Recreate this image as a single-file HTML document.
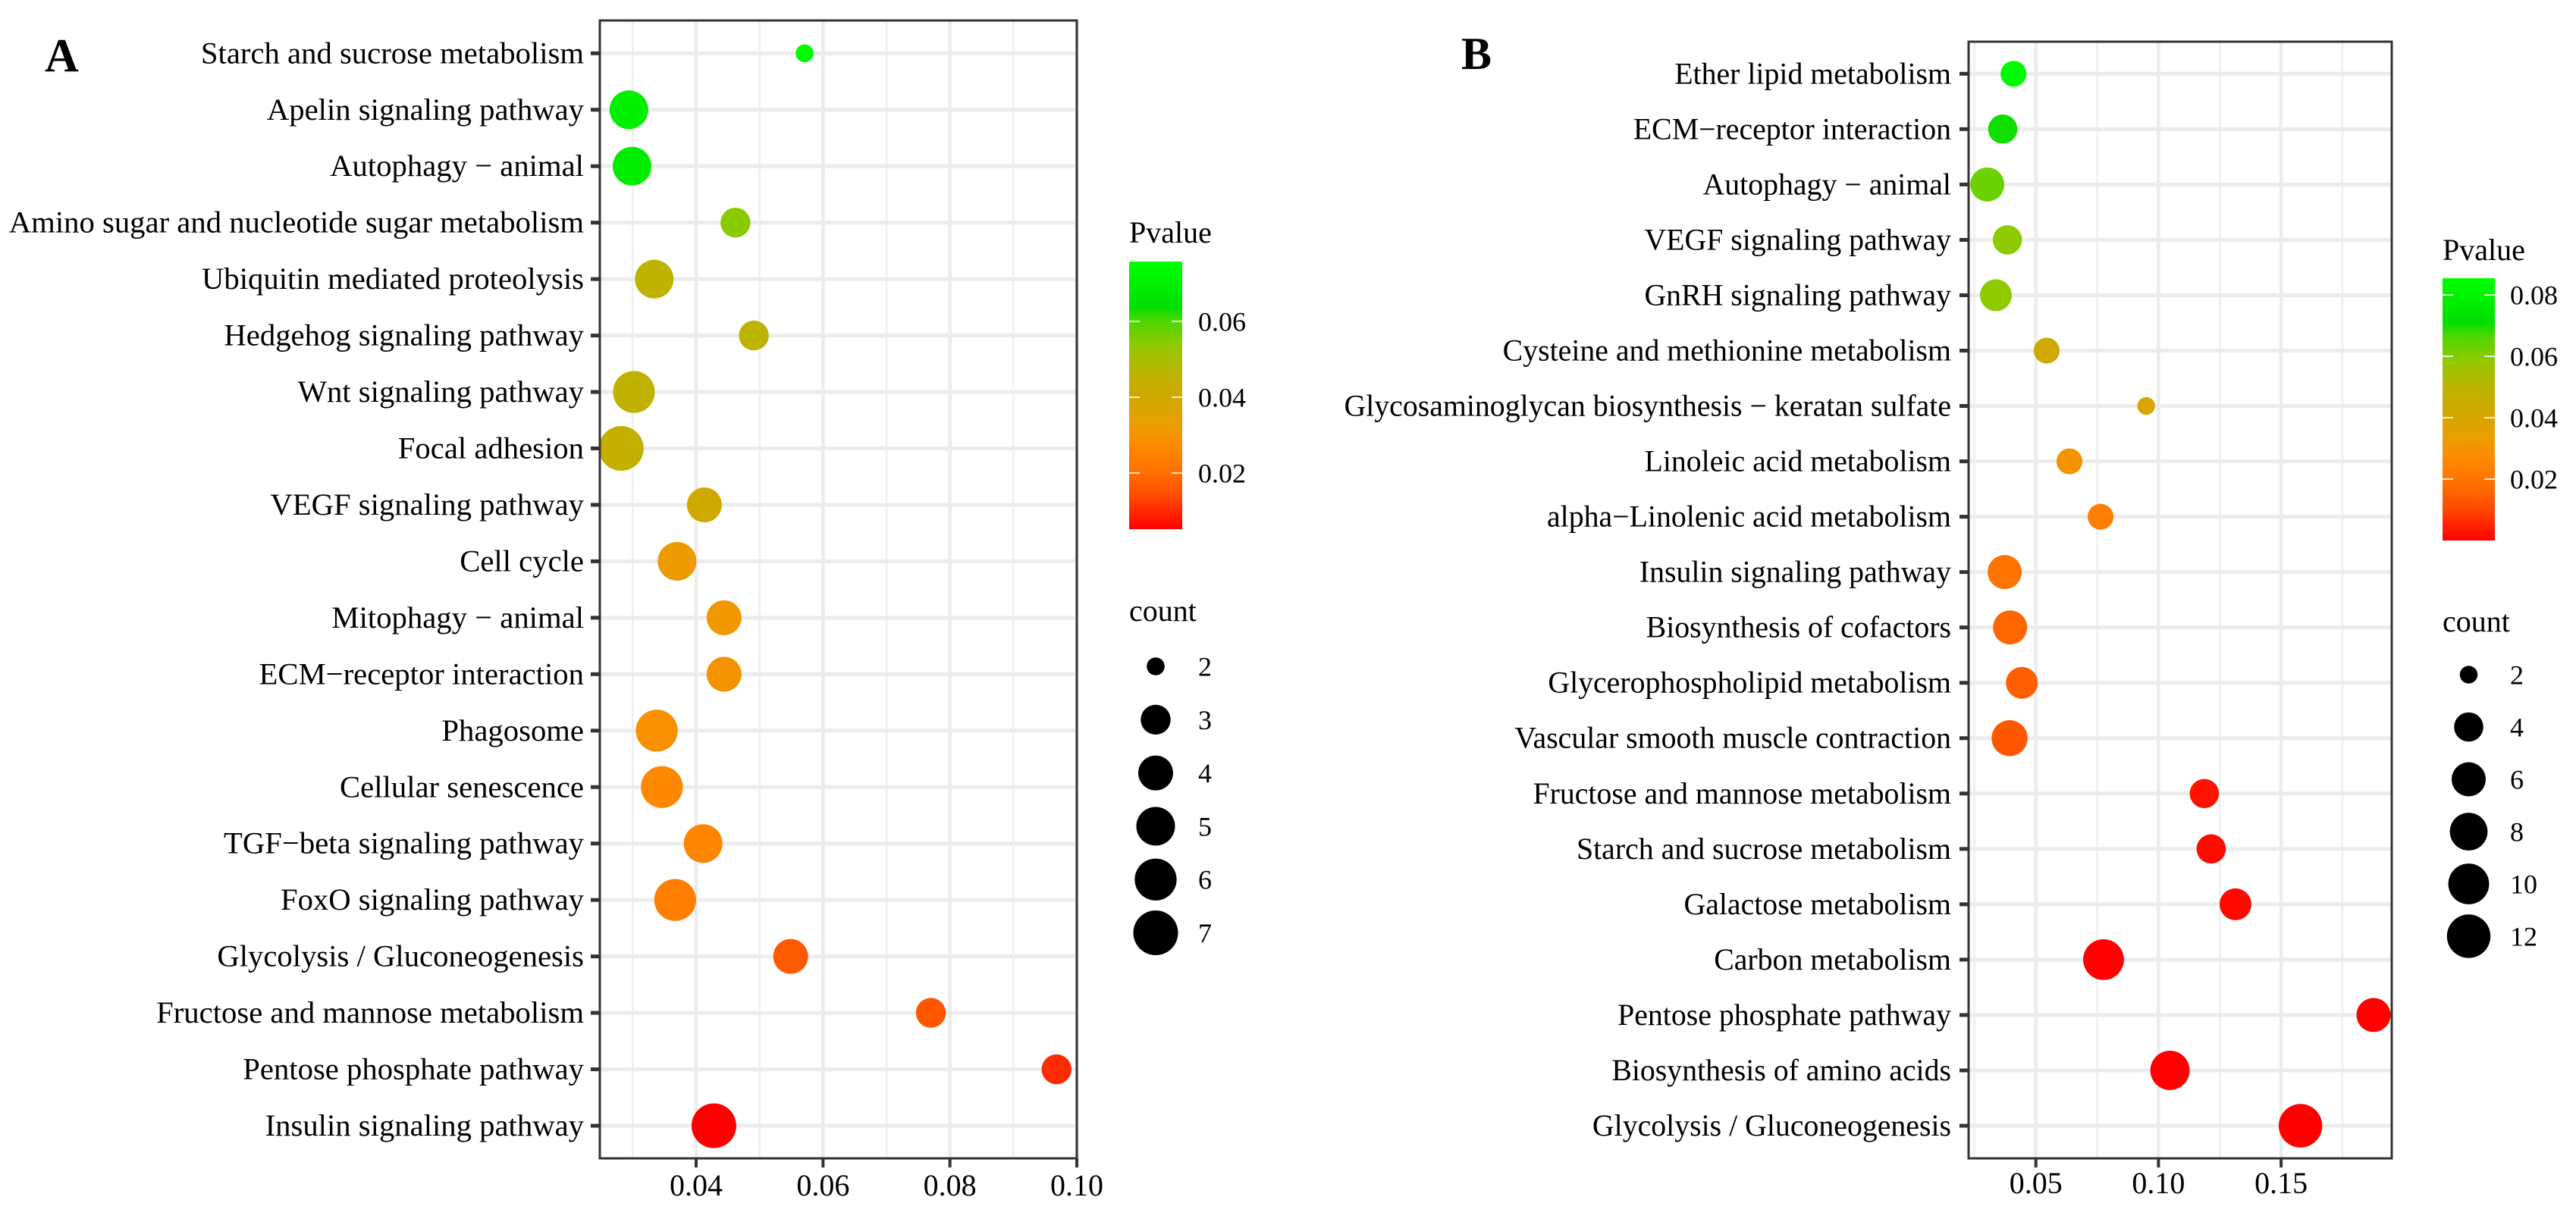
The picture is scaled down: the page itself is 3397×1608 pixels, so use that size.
<!DOCTYPE html>
<html lang="en">
<head>
<meta charset="utf-8">
<title>KEGG pathway enrichment bubble charts</title>
<style>
  html, body { margin: 0; padding: 0; background: #fff; }
  svg { display: block; }
  text { font-family: "Liberation Serif", "Times New Roman", serif; fill: #000; }
</style>
</head>
<body>
<svg id="figure" xmlns="http://www.w3.org/2000/svg" width="3397" height="1608" viewBox="0 0 3397 1608">
  <rect x="0" y="0" width="3397" height="1608" fill="#ffffff"/>
  <defs>
    <linearGradient id="pvalue-gradient" x1="0" y1="1" x2="0" y2="0">
      <stop offset="0" stop-color="#ff0000"/>
      <stop offset="0.118" stop-color="#ff4800"/>
      <stop offset="0.212" stop-color="#ff7000"/>
      <stop offset="0.307" stop-color="#ff8800"/>
      <stop offset="0.40" stop-color="#e8a000"/>
      <stop offset="0.495" stop-color="#d0a800"/>
      <stop offset="0.585" stop-color="#bcb400"/>
      <stop offset="0.68" stop-color="#96c800"/>
      <stop offset="0.78" stop-color="#4cd800"/>
      <stop offset="0.83" stop-color="#00e000"/>
      <stop offset="1" stop-color="#00ff00"/>
    </linearGradient>
  </defs>
  <g id="panel-a"></g>
  <g id="panel-b"></g>
  <text x="59" y="94" font-size="62" font-weight="bold">A</text>
  <text x="1927" y="91" font-size="60" font-weight="bold">B</text>
</svg>
<script>
// ---- Panel A data ----
const categoriesA = ["Starch and sucrose metabolism","Apelin signaling pathway","Autophagy − animal","Amino sugar and nucleotide sugar metabolism","Ubiquitin mediated proteolysis","Hedgehog signaling pathway","Wnt signaling pathway","Focal adhesion","VEGF signaling pathway","Cell cycle","Mitophagy − animal","ECM−receptor interaction","Phagosome","Cellular senescence","TGF−beta signaling pathway","FoxO signaling pathway","Glycolysis / Gluconeogenesis","Fructose and mannose metabolism","Pentose phosphate pathway","Insulin signaling pathway"];
const ratioA = [0.0571,0.0294,0.0299,0.0462,0.0334,0.0491,0.0302,0.0282,0.0413,0.0370,0.0444,0.0444,0.0338,0.0346,0.0411,0.0367,0.0549,0.0770,0.0968,0.0428];
const countA = [2,5,5,3,5,3,6,7,4,5,4,4,6,6,5,6,4,3,3,7];
const pvalueA = [0.0740,0.0700,0.0690,0.0546,0.0460,0.0460,0.0450,0.0440,0.0405,0.0320,0.0310,0.0300,0.0290,0.0270,0.0260,0.0240,0.0165,0.0160,0.0101,0.0052];
const xTicksA = [0.04,0.06,0.08,0.10];
const xMinorA = [0.03,0.05,0.07,0.09];
const pTicksA = [0.02,0.04,0.06];
const countLegendA = [2,3,4,5,6,7];

// ---- Panel B data ----
const categoriesB = ["Ether lipid metabolism","ECM−receptor interaction","Autophagy − animal","VEGF signaling pathway","GnRH signaling pathway","Cysteine and methionine metabolism","Glycosaminoglycan biosynthesis − keratan sulfate","Linoleic acid metabolism","alpha−Linolenic acid metabolism","Insulin signaling pathway","Biosynthesis of cofactors","Glycerophospholipid metabolism","Vascular smooth muscle contraction","Fructose and mannose metabolism","Starch and sucrose metabolism","Galactose metabolism","Carbon metabolism","Pentose phosphate pathway","Biosynthesis of amino acids","Glycolysis / Gluconeogenesis"];
const ratioB = [0.0409,0.0365,0.0302,0.0384,0.0337,0.0544,0.0950,0.0637,0.0764,0.0373,0.0395,0.0443,0.0393,0.1187,0.1215,0.1314,0.0776,0.1877,0.1047,0.1579];
const countB = [3,4,6,4,5,3,2,3,3,6,6,5,7,4,4,5,10,6,9,12];
const pvalueB = [0.0830,0.0700,0.0630,0.0590,0.0590,0.0427,0.0385,0.0300,0.0230,0.0190,0.0160,0.0145,0.0128,0.0026,0.0017,0.0013,0.0002,0.0001,0.0001,0.0000];
const xTicksB = [0.05,0.10,0.15];
const xMinorB = [0.025,0.075,0.125,0.175];
const pTicksB = [0.02,0.04,0.06,0.08];
const countLegendB = [2,4,6,8,10,12];

const colorStopT = [0,0.118,0.212,0.307,0.40,0.495,0.585,0.68,0.78,0.83,1];
const colorStopHex = ["#ff0000","#ff4800","#ff7000","#ff8800","#e8a000","#d0a800","#bcb400","#96c800","#4cd800","#00e000","#00ff00"];

const NS = "http://www.w3.org/2000/svg";

function make(parent, tag, attrs) {
  const el = document.createElementNS(NS, tag);
  for (const k in attrs) el.setAttribute(k, attrs[k]);
  parent.appendChild(el);
  return el;
}

function hexToRgb(h) {
  return [parseInt(h.slice(1,3),16), parseInt(h.slice(3,5),16), parseInt(h.slice(5,7),16)];
}

function gradientColor(t) {
  t = Math.max(0, Math.min(1, t));
  for (let i = 1; i < colorStopT.length; i++) {
    if (t <= colorStopT[i]) {
      const f = (t - colorStopT[i-1]) / (colorStopT[i] - colorStopT[i-1]);
      const a = hexToRgb(colorStopHex[i-1]);
      const b = hexToRgb(colorStopHex[i]);
      return "rgb(" + a.map((v, j) => Math.round(v + (b[j] - v) * f)).join(",") + ")";
    }
  }
  return colorStopHex[colorStopHex.length - 1];
}

function drawPanel(cfg) {
  const g = document.getElementById(cfg.id);
  const xScale = v => cfg.x0 + (v - cfg.v0) * cfg.pxPerUnit;
  const yScale = i => cfg.rowFirst + i * (cfg.rowLast - cfg.rowFirst) / (cfg.categories.length - 1);
  const minC = Math.min.apply(null, cfg.countLegend);
  const maxC = Math.max.apply(null, cfg.countLegend);
  const rScale = c => cfg.rMin + (cfg.rMax - cfg.rMin) * Math.sqrt((c - minC) / (maxC - minC));
  const pY = p => cfg.pY0 + (p - cfg.pV0) * cfg.pPxPerUnit;
  const pT = p => (cfg.barBottom - pY(p)) / (cfg.barBottom - cfg.barTop);

  const panelBg = make(g, "rect", {x: cfg.left, y: cfg.top, width: cfg.right - cfg.left, height: cfg.bottom - cfg.top, fill: "#ffffff"});
  
  

  cfg.xMinor.forEach(v => {
    const l = make(g, "line", {x1: xScale(v), x2: xScale(v), y1: cfg.top, y2: cfg.bottom, stroke: "#efefef", "stroke-width": 2.5});
    
    
  });
  cfg.xTicks.forEach(v => {
    const l = make(g, "line", {x1: xScale(v), x2: xScale(v), y1: cfg.top, y2: cfg.bottom, stroke: "#ececec", "stroke-width": 4.5});
    
    
  });
  cfg.categories.forEach((c, i) => {
    const l = make(g, "line", {x1: cfg.left, x2: cfg.right, y1: yScale(i), y2: yScale(i), stroke: "#ececec", "stroke-width": 5});
    
    
  });

  cfg.categories.forEach((c, i) => {
    const pt = make(g, "circle", {cx: xScale(cfg.ratio[i]), cy: yScale(i), r: rScale(cfg.count[i]), fill: gradientColor(pT(cfg.pvalue[i]))});
    
    
  });

  const border = make(g, "rect", {x: cfg.left, y: cfg.top, width: cfg.right - cfg.left, height: cfg.bottom - cfg.top, fill: "none", stroke: "#333333", "stroke-width": 3});
  
  

  cfg.categories.forEach((c, i) => {
    const tick = make(g, "line", {x1: cfg.left - 12, x2: cfg.left, y1: yScale(i), y2: yScale(i), stroke: "#333333", "stroke-width": 5});
    
    
    const t = make(g, "text", {x: cfg.labelRight, y: yScale(i) + 13, "font-size": cfg.labelSize, "text-anchor": "end"});
    t.textContent = c;
    
    
  });

  cfg.xTicks.forEach(v => {
    const tick = make(g, "line", {x1: xScale(v), x2: xScale(v), y1: cfg.bottom, y2: cfg.bottom + 12, stroke: "#333333", "stroke-width": 4});
    
    
    const t = make(g, "text", {x: xScale(v), y: cfg.xLabelY, "font-size": 40, "text-anchor": "middle"});
    t.textContent = v.toFixed(2);
    
    
  });

  // colour legend
  const title = make(g, "text", {x: cfg.barX, y: cfg.barTitleY, "font-size": 40});
  title.textContent = "Pvalue";
  
  
  const bar = make(g, "rect", {x: cfg.barX, y: cfg.barTop, width: cfg.barW, height: cfg.barBottom - cfg.barTop, fill: "url(#pvalue-gradient)"});
  
  
  cfg.pTicks.forEach(p => {
    const y = pY(p);
    const a = make(g, "line", {x1: cfg.barX, x2: cfg.barX + 14, y1: y, y2: y, stroke: "#ffffff", "stroke-width": 1.6});
    
    
    const b = make(g, "line", {x1: cfg.barX + cfg.barW - 14, x2: cfg.barX + cfg.barW, y1: y, y2: y, stroke: "#ffffff", "stroke-width": 1.6});
    
    
    const t = make(g, "text", {x: cfg.legendLabelX, y: y + 12.5, "font-size": 36});
    t.textContent = p.toFixed(2);
    
    
  });

  // size legend
  const cTitle = make(g, "text", {x: cfg.barX, y: cfg.countTitleY, "font-size": 40});
  cTitle.textContent = "count";
  
  
  cfg.countLegend.forEach((c, i) => {
    const y = cfg.countFirstY + i * cfg.countStep;
    const dot = make(g, "circle", {cx: cfg.barX + cfg.barW / 2, cy: y, r: rScale(c), fill: "#000000"});
    
    
    const t = make(g, "text", {x: cfg.legendLabelX, y: y + 12.5, "font-size": 36});
    t.textContent = String(c);
    
    
  });
}

drawPanel({
  id: "panel-a", categories: categoriesA, ratio: ratioA, count: countA, pvalue: pvalueA,
  xTicks: xTicksA, xMinor: xMinorA, pTicks: pTicksA, countLegend: countLegendA,
  left: 791, right: 1420, top: 27, bottom: 1528, rowFirst: 70.3, rowLast: 1485,
  x0: 918, v0: 0.04, pxPerUnit: 8367, labelRight: 770, labelSize: 40.7, xLabelY: 1577,
  rMin: 11.8, rMax: 29.5,
  barX: 1489, barW: 70, barTop: 345, barBottom: 698, barTitleY: 320,
  pY0: 624, pV0: 0.02, pPxPerUnit: -5000, legendLabelX: 1580,
  countTitleY: 819, countFirstY: 879, countStep: 70.3
});

drawPanel({
  id: "panel-b", categories: categoriesB, ratio: ratioB, count: countB, pvalue: pvalueB,
  xTicks: xTicksB, xMinor: xMinorB, pTicks: pTicksB, countLegend: countLegendB,
  left: 2596, right: 3154, top: 55, bottom: 1528, rowFirst: 97.3, rowLast: 1485,
  x0: 2684.7, v0: 0.05, pxPerUnit: 3234, labelRight: 2573, labelSize: 39.8, xLabelY: 1574,
  rMin: 11.7, rMax: 28.7,
  barX: 3221, barW: 69, barTop: 367, barBottom: 713, barTitleY: 343,
  pY0: 632, pV0: 0.02, pPxPerUnit: -4050, legendLabelX: 3310,
  countTitleY: 833, countFirstY: 890, countStep: 69
});
</script>
</body>
</html>
